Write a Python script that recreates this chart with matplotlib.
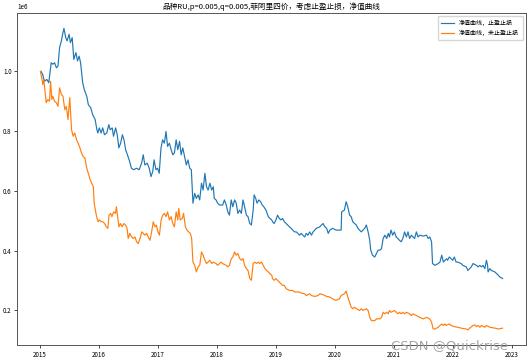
import numpy as np
import pandas as pd
import matplotlib
matplotlib.use('Agg')
import matplotlib.pyplot as plt

plt.rcParams['font.family'] = ['Noto Sans CJK SC', 'DejaVu Sans']
plt.rcParams['axes.unicode_minus'] = False

# net value with stop profit / stop loss (unit: 1e6)
stop_dates = [
    '2015-01-07', '2015-01-17', '2015-01-28', '2015-02-12', '2015-02-24', '2015-03-11', '2015-03-21', '2015-04-01',
    '2015-04-12', '2015-04-22', '2015-05-02', '2015-05-13', '2015-05-23', '2015-05-29', '2015-06-09', '2015-06-17',
    '2015-06-30', '2015-07-08', '2015-07-19', '2015-07-29', '2015-08-11', '2015-08-21', '2015-08-31', '2015-09-09',
    '2015-09-22', '2015-10-02', '2015-10-17', '2015-10-27', '2015-11-11', '2015-11-23', '2015-12-08', '2015-12-19',
    '2015-12-25', '2016-01-03', '2016-01-14', '2016-01-24', '2016-02-04', '2016-02-18', '2016-03-02', '2016-03-10',
    '2016-03-23', '2016-03-31', '2016-04-13', '2016-04-23', '2016-05-03', '2016-05-14', '2016-05-25', '2016-06-04',
    '2016-06-14', '2016-06-29', '2016-07-09', '2016-07-20', '2016-08-03', '2016-08-20', '2016-09-06', '2016-09-21',
    '2016-10-01', '2016-10-11', '2016-10-26', '2016-11-07', '2016-11-18', '2016-11-29', '2016-12-07', '2016-12-19',
    '2016-12-29', '2017-01-08', '2017-01-19', '2017-01-29', '2017-02-09', '2017-02-19', '2017-03-01', '2017-03-12',
    '2017-03-23', '2017-04-02', '2017-04-12', '2017-04-23', '2017-05-03', '2017-05-14', '2017-05-24', '2017-06-03',
    '2017-06-14', '2017-06-25', '2017-07-05', '2017-07-16', '2017-07-26', '2017-08-05', '2017-08-16', '2017-08-26',
    '2017-09-06', '2017-09-16', '2017-09-27', '2017-10-07', '2017-10-18', '2017-10-28', '2017-11-07', '2017-11-18',
    '2017-11-29', '2017-12-09', '2017-12-15', '2017-12-26', '2018-01-05', '2018-01-16', '2018-02-05', '2018-02-16',
    '2018-02-27', '2018-03-09', '2018-03-19', '2018-03-30', '2018-04-09', '2018-04-20', '2018-04-30', '2018-05-10',
    '2018-05-21', '2018-06-01', '2018-06-11', '2018-06-21', '2018-07-02', '2018-07-12', '2018-07-23', '2018-08-02',
    '2018-08-13', '2018-08-19', '2018-08-29', '2018-09-06', '2018-09-17', '2018-09-28', '2018-10-08', '2018-10-18',
    '2018-10-31', '2018-11-15', '2018-11-25', '2018-12-06', '2018-12-11', '2018-12-21', '2019-01-01', '2019-01-11',
    '2019-01-22', '2019-02-01', '2019-02-11', '2019-02-22', '2019-03-05', '2019-03-15', '2019-03-26', '2019-04-05',
    '2019-04-15', '2019-04-26', '2019-05-07', '2019-05-17', '2019-05-27', '2019-06-07', '2019-06-17', '2019-06-28',
    '2019-07-08', '2019-07-18', '2019-07-29', '2019-08-09', '2019-08-19', '2019-09-09', '2019-09-30', '2019-10-10',
    '2019-10-20', '2019-10-31', '2019-11-11', '2019-11-21', '2019-12-01', '2019-12-18', '2020-01-08', '2020-02-09',
    '2020-02-12', '2020-02-29', '2020-03-11', '2020-03-21', '2020-04-01', '2020-04-11', '2020-04-21', '2020-05-02',
    '2020-05-13', '2020-05-23', '2020-06-02', '2020-06-13', '2020-06-23', '2020-07-04', '2020-07-14', '2020-07-25',
    '2020-08-04', '2020-08-10', '2020-08-21', '2020-09-04', '2020-09-15', '2020-09-25', '2020-10-06', '2020-10-16',
    '2020-10-26', '2020-11-06', '2020-11-17', '2020-11-27', '2020-12-04', '2020-12-14', '2020-12-24', '2021-01-04',
    '2021-01-15', '2021-01-25', '2021-02-04', '2021-02-15', '2021-02-25', '2021-03-08', '2021-03-19', '2021-03-29',
    '2021-04-08', '2021-04-19', '2021-04-29', '2021-05-09', '2021-05-20', '2021-05-30', '2021-06-10', '2021-07-01',
    '2021-07-22', '2021-08-01', '2021-08-11', '2021-08-22', '2021-08-28', '2021-09-12', '2021-10-02', '2021-10-13',
    '2021-10-24', '2021-11-03', '2021-11-13', '2021-11-24', '2021-11-29', '2021-12-10', '2021-12-21', '2021-12-31',
    '2022-01-10', '2022-01-21', '2022-01-31', '2022-02-21', '2022-03-04', '2022-03-25', '2022-04-04', '2022-04-15',
    '2022-04-25', '2022-05-06', '2022-05-27', '2022-06-06', '2022-06-17', '2022-06-27', '2022-07-07', '2022-07-18',
    '2022-07-28', '2022-08-04', '2022-08-07', '2022-08-18', '2022-08-28', '2022-09-18', '2022-10-09', '2022-10-19',
    '2022-11-05',
]
stop_vals = [
    1.000, 0.990, 0.967, 0.973, 0.962, 1.029, 1.024, 1.029, 1.012, 1.018, 1.080, 1.102, 1.130, 1.144, 1.113, 1.102,
    1.124, 1.096, 1.113, 1.040, 1.063, 1.035, 1.051, 1.029, 0.962, 0.939, 0.917, 0.889, 0.878, 0.855, 0.839, 0.805,
    0.794, 0.811, 0.794, 0.811, 0.788, 0.794, 0.822, 0.805, 0.811, 0.783, 0.811, 0.788, 0.744, 0.760, 0.788, 0.771,
    0.738, 0.715, 0.698, 0.676, 0.671, 0.676, 0.671, 0.693, 0.721, 0.687, 0.693, 0.676, 0.648, 0.665, 0.704, 0.671,
    0.676, 0.659, 0.743, 0.771, 0.760, 0.799, 0.749, 0.760, 0.738, 0.721, 0.727, 0.771, 0.738, 0.766, 0.721, 0.744,
    0.715, 0.687, 0.704, 0.676, 0.671, 0.559, 0.592, 0.575, 0.587, 0.570, 0.626, 0.603, 0.659, 0.614, 0.603, 0.626,
    0.603, 0.614, 0.575, 0.570, 0.559, 0.553, 0.553, 0.570, 0.553, 0.530, 0.519, 0.570, 0.547, 0.570, 0.559, 0.525,
    0.536, 0.525, 0.570, 0.547, 0.519, 0.514, 0.491, 0.486, 0.536, 0.587, 0.575, 0.559, 0.570, 0.564, 0.553, 0.547,
    0.536, 0.514, 0.508, 0.503, 0.497, 0.491, 0.503, 0.519, 0.508, 0.503, 0.508, 0.497, 0.491, 0.486, 0.480, 0.475,
    0.469, 0.463, 0.463, 0.458, 0.452, 0.458, 0.452, 0.446, 0.458, 0.452, 0.463, 0.452, 0.463, 0.475, 0.480, 0.486,
    0.491, 0.480, 0.475, 0.458, 0.469, 0.475, 0.469, 0.469, 0.530, 0.536, 0.564, 0.547, 0.519, 0.514, 0.497, 0.491,
    0.486, 0.475, 0.469, 0.463, 0.469, 0.475, 0.486, 0.463, 0.435, 0.402, 0.385, 0.379, 0.391, 0.402, 0.402, 0.407,
    0.441, 0.452, 0.441, 0.458, 0.446, 0.469, 0.452, 0.463, 0.446, 0.441, 0.435, 0.430, 0.441, 0.463, 0.446, 0.463,
    0.441, 0.452, 0.446, 0.441, 0.463, 0.446, 0.452, 0.449, 0.452, 0.441, 0.446, 0.430, 0.357, 0.351, 0.357, 0.362,
    0.385, 0.362, 0.368, 0.373, 0.368, 0.379, 0.373, 0.368, 0.379, 0.362, 0.362, 0.357, 0.351, 0.346, 0.334, 0.340,
    0.346, 0.357, 0.351, 0.346, 0.351, 0.346, 0.351, 0.340, 0.368, 0.351, 0.329, 0.340, 0.334, 0.329, 0.318, 0.312,
    0.307,
]

# net value without stop profit / stop loss (unit: 1e6)
nostop_dates = [
    '2015-01-03', '2015-01-11', '2015-01-18', '2015-01-24', '2015-02-02', '2015-02-08', '2015-02-18', '2015-03-01',
    '2015-03-07', '2015-03-15', '2015-03-21', '2015-04-01', '2015-04-12', '2015-04-22', '2015-05-02', '2015-05-13',
    '2015-05-23', '2015-06-03', '2015-06-13', '2015-06-23', '2015-07-04', '2015-07-15', '2015-07-25', '2015-08-04',
    '2015-08-15', '2015-08-25', '2015-09-05', '2015-09-15', '2015-09-25', '2015-10-06', '2015-10-17', '2015-10-27',
    '2015-11-07', '2015-11-17', '2015-11-27', '2015-12-02', '2015-12-06', '2015-12-17', '2015-12-27', '2016-01-04',
    '2016-01-15', '2016-01-25', '2016-02-05', '2016-02-15', '2016-02-25', '2016-03-03', '2016-03-13', '2016-03-21',
    '2016-04-01', '2016-04-12', '2016-04-18', '2016-04-28', '2016-05-04', '2016-05-13', '2016-05-23', '2016-06-03',
    '2016-06-13', '2016-06-23', '2016-06-30', '2016-07-10', '2016-07-21', '2016-07-31', '2016-08-11', '2016-08-21',
    '2016-08-31', '2016-09-11', '2016-09-22', '2016-10-02', '2016-10-11', '2016-10-22', '2016-11-01', '2016-11-12',
    '2016-11-22', '2016-12-02', '2016-12-13', '2016-12-21', '2016-12-31', '2017-01-09', '2017-01-20', '2017-01-30',
    '2017-02-09', '2017-02-19', '2017-03-01', '2017-03-12', '2017-03-23', '2017-04-02', '2017-04-12', '2017-04-23',
    '2017-05-03', '2017-05-09', '2017-05-18', '2017-05-31', '2017-06-08', '2017-06-19', '2017-06-29', '2017-07-09',
    '2017-07-20', '2017-07-28', '2017-08-05', '2017-08-16', '2017-08-26', '2017-09-06', '2017-09-16', '2017-09-27',
    '2017-10-07', '2017-10-18', '2017-10-28', '2017-11-07', '2017-11-18', '2017-11-29', '2017-12-09', '2017-12-26',
    '2018-01-05', '2018-01-16', '2018-01-26', '2018-02-05', '2018-02-27', '2018-03-09', '2018-03-19', '2018-03-30',
    '2018-04-09', '2018-04-20', '2018-04-30', '2018-05-10', '2018-05-21', '2018-06-01', '2018-06-11', '2018-06-21',
    '2018-07-02', '2018-07-12', '2018-07-23', '2018-08-02', '2018-08-13', '2018-08-23', '2018-09-03', '2018-09-13',
    '2018-09-23', '2018-10-04', '2018-10-14', '2018-10-25', '2018-11-04', '2018-11-15', '2018-11-25', '2018-12-06',
    '2018-12-11', '2018-12-21', '2019-01-01', '2019-01-11', '2019-01-22', '2019-02-01', '2019-02-11', '2019-02-22',
    '2019-03-05', '2019-03-26', '2019-04-15', '2019-04-26', '2019-05-27', '2019-06-07', '2019-06-28', '2019-07-08',
    '2019-07-18', '2019-07-29', '2019-08-09', '2019-08-29', '2019-09-19', '2019-09-30', '2019-10-20', '2019-11-11',
    '2019-12-01', '2019-12-18', '2020-01-08', '2020-01-29', '2020-02-09', '2020-02-29', '2020-03-11', '2020-03-21',
    '2020-04-01', '2020-04-11', '2020-04-21', '2020-05-02', '2020-05-13', '2020-06-02', '2020-06-13', '2020-06-23',
    '2020-07-14', '2020-07-25', '2020-08-04', '2020-08-15', '2020-09-04', '2020-09-15', '2020-10-06', '2020-10-16',
    '2020-10-26', '2020-11-06', '2020-11-17', '2020-11-27', '2020-12-04', '2020-12-14', '2021-01-04', '2021-01-15',
    '2021-01-25', '2021-02-04', '2021-02-15', '2021-02-25', '2021-03-08', '2021-03-19', '2021-04-08', '2021-04-19',
    '2021-04-29', '2021-05-20', '2021-06-10', '2021-07-01', '2021-07-22', '2021-08-11', '2021-08-22', '2021-09-01',
    '2021-09-12', '2021-10-02', '2021-10-24', '2021-11-03', '2021-11-13', '2021-11-19', '2021-12-10', '2021-12-21',
    '2022-01-10', '2022-01-31', '2022-02-21', '2022-03-25', '2022-04-04', '2022-04-15', '2022-05-06', '2022-05-16',
    '2022-05-27', '2022-06-06', '2022-06-17', '2022-06-27', '2022-07-18', '2022-07-28', '2022-08-18', '2022-09-18',
    '2022-10-09', '2022-11-05',
]
nostop_vals = [
    1.000, 0.979, 0.956, 0.973, 0.928, 0.895, 0.906, 0.900, 0.967, 0.906, 0.917, 0.900, 0.895, 0.883, 0.945, 0.923,
    0.917, 0.872, 0.883, 0.839, 0.912, 0.805, 0.783, 0.794, 0.771, 0.760, 0.744, 0.727, 0.715, 0.710, 0.676, 0.659,
    0.637, 0.626, 0.614, 0.559, 0.547, 0.514, 0.497, 0.503, 0.497, 0.497, 0.491, 0.480, 0.475, 0.519, 0.525, 0.514,
    0.530, 0.525, 0.547, 0.503, 0.480, 0.491, 0.480, 0.491, 0.486, 0.475, 0.441, 0.458, 0.446, 0.441, 0.446, 0.430,
    0.424, 0.441, 0.463, 0.458, 0.452, 0.458, 0.446, 0.435, 0.463, 0.497, 0.480, 0.486, 0.463, 0.452, 0.503, 0.519,
    0.525, 0.514, 0.530, 0.503, 0.514, 0.491, 0.480, 0.530, 0.503, 0.542, 0.503, 0.508, 0.525, 0.480, 0.469, 0.463,
    0.458, 0.441, 0.362, 0.351, 0.329, 0.346, 0.351, 0.396, 0.385, 0.368, 0.357, 0.362, 0.368, 0.357, 0.362, 0.357,
    0.351, 0.357, 0.362, 0.357, 0.351, 0.346, 0.351, 0.373, 0.379, 0.396, 0.385, 0.391, 0.374, 0.368, 0.374, 0.351,
    0.340, 0.334, 0.307, 0.301, 0.357, 0.362, 0.357, 0.362, 0.357, 0.362, 0.351, 0.340, 0.334, 0.329, 0.323, 0.318,
    0.307, 0.301, 0.307, 0.301, 0.295, 0.290, 0.284, 0.284, 0.273, 0.267, 0.267, 0.262, 0.262, 0.258, 0.256, 0.250,
    0.253, 0.256, 0.250, 0.247, 0.250, 0.256, 0.253, 0.247, 0.245, 0.239, 0.234, 0.239, 0.250, 0.256, 0.265, 0.245,
    0.228, 0.211, 0.206, 0.211, 0.206, 0.200, 0.206, 0.200, 0.206, 0.200, 0.177, 0.166, 0.166, 0.172, 0.172, 0.177,
    0.194, 0.189, 0.194, 0.189, 0.200, 0.194, 0.200, 0.194, 0.189, 0.194, 0.189, 0.194, 0.189, 0.194, 0.189, 0.183,
    0.189, 0.183, 0.177, 0.172, 0.177, 0.172, 0.161, 0.138, 0.138, 0.144, 0.155, 0.150, 0.155, 0.150, 0.155, 0.150,
    0.146, 0.144, 0.141, 0.138, 0.135, 0.141, 0.150, 0.152, 0.146, 0.150, 0.144, 0.150, 0.144, 0.150, 0.144, 0.141,
    0.138, 0.141,
]

title = '品种RU,p=0.005,q=0.005,菲阿里四价，考虑止盈止损，净值曲线'
labels = ['净值曲线，止盈止损', '净值曲线，未止盈止损']

fig = plt.figure(figsize=(5.30, 3.59), dpi=100)
ax = fig.add_axes([0.0326, 0.039, 0.9593, 0.924])

ax.plot(pd.to_datetime(stop_dates), np.array(stop_vals) * 1e6, color='#1f77b4', lw=0.85, label=labels[0])
ax.plot(pd.to_datetime(nostop_dates), np.array(nostop_vals) * 1e6, color='#ff7f0e', lw=0.85, label=labels[1])

ax.set_title(title, fontsize=5.5, pad=3)
ax.tick_params(labelsize=4.5, length=2, width=0.5, pad=2)
ax.yaxis.get_offset_text().set_fontsize(4.5)
for s in ax.spines.values():
    s.set_linewidth(0.7)
    s.set_color('#555555')
ax.legend(loc='upper right', fontsize=4.3, handlelength=2.2, borderpad=0.6, labelspacing=0.6,
          frameon=True, edgecolor='#cccccc', fancybox=True)

# watermark of the original page (sits over the axis bottom, like in the source image)
fig.text(0.958, 0.02, 'CSDN @Quickrise', ha='right', va='bottom', fontsize=9.5,
         color='#9a9a9a', family='DejaVu Sans', alpha=0.9)

fig.savefig('out.png', dpi=100)
